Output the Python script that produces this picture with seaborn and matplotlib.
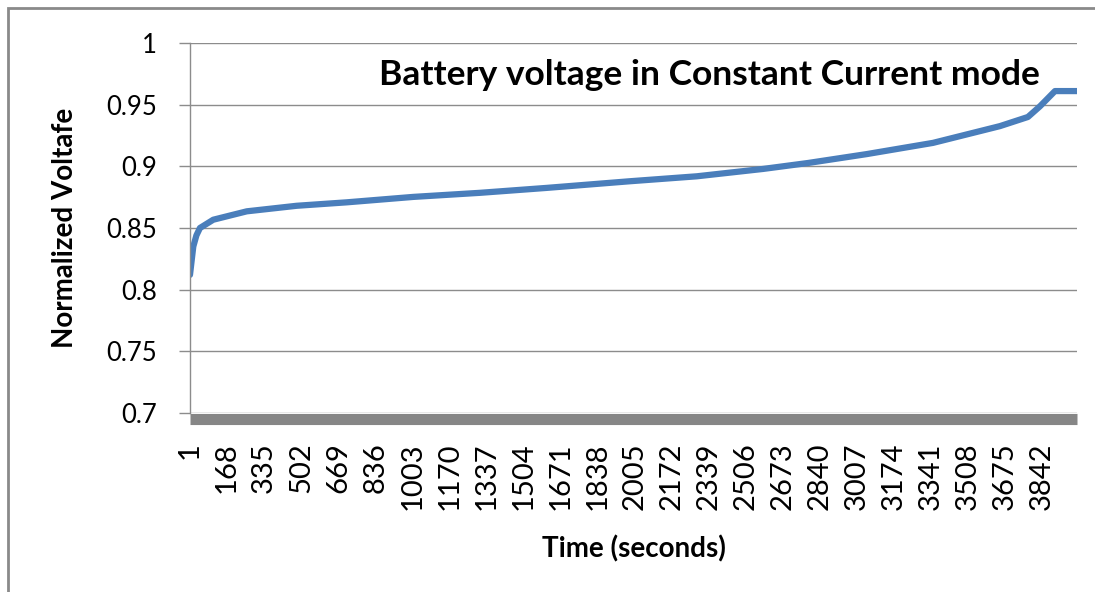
import numpy as np
import pandas as pd
import matplotlib
matplotlib.use("Agg")
import matplotlib.pyplot as plt
import seaborn as sns
from matplotlib.patches import Rectangle

# values
time_s = [1, 16, 30, 46, 106, 257, 482, 708, 1008, 1308, 1609, 1985, 2286,
          2586, 2788, 3052, 3351, 3653, 3779, 3833, 3901, 4000]
norm_voltage = [0.812, 0.835, 0.844, 0.850, 0.8567, 0.8635, 0.868, 0.8708,
                0.8752, 0.8785, 0.8825, 0.8879, 0.8919, 0.8979, 0.9027,
                0.9099, 0.919, 0.9326, 0.940, 0.9486, 0.961, 0.961]
x_ticks = list(range(1, 4000, 167))
y_ticks = [0.7, 0.75, 0.8, 0.85, 0.9, 0.95, 1.0]
y_labels = ['0.7', '0.75', '0.8', '0.85', '0.9', '0.95', '1']

df = pd.DataFrame({'Time': time_s, 'Voltage': norm_voltage})

sns.set_style("white")
plt.rcParams['font.family'] = ['Lato', 'DejaVu Sans']
plt.rcParams['text.color'] = 'black'
plt.rcParams['axes.labelcolor'] = 'black'
plt.rcParams['xtick.labelcolor'] = 'black'
plt.rcParams['ytick.labelcolor'] = 'black'

fig = plt.figure(figsize=(10.95, 5.92), dpi=100)
ax = fig.add_axes([0.1735, 0.3024, 0.81, 0.625])

sns.lineplot(data=df, x='Time', y='Voltage', ax=ax, color='#4a7ebb', linewidth=4.5)

ax.set_xlim(1, 4000)
ax.set_ylim(0.7, 1.0)
ax.set_yticks(y_ticks)
ax.set_yticklabels(y_labels)
ax.set_xticks(x_ticks)
ax.set_xticklabels([str(t) for t in x_ticks])

ax.grid(axis='y', color='#8c8c8c', linewidth=1)
ax.grid(axis='x', visible=False)
ax.set_axisbelow(True)

for s in ['top', 'right']:
    ax.spines[s].set_visible(False)
ax.spines['left'].set_color('#8c8c8c')
ax.spines['left'].set_linewidth(1)
ax.spines['bottom'].set_color('#868686')
ax.spines['bottom'].set_linewidth(8)
ax.spines['bottom'].set_capstyle('butt')
ax.spines['bottom'].set_position(('outward', 4))

ax.tick_params(axis='y', which='major', direction='out', length=8, width=1,
               color='#8c8c8c', labelcolor='black', labelsize=18.5, pad=16, left=True)
ax.tick_params(axis='x', length=0, labelcolor='black', labelsize=21, pad=17, labelrotation=90)

ax.set_xlabel('Time (seconds)', fontsize=20, fontweight='bold', labelpad=18, color='black')
ax.set_ylabel('Normalized Voltafe', fontsize=20, fontweight='bold', labelpad=20, color='black')

ax.text(0.958, 0.914, 'Battery voltage in Constant Current mode',
        transform=ax.transAxes, ha='right', va='center',
        fontsize=25.5, fontweight='bold', color='black')

fig.patches.append(Rectangle((0.0073, -0.1), 1.2, 0.9865 + 0.1, transform=fig.transFigure,
                             fill=False, edgecolor='#8a8a8a', linewidth=2))

plt.savefig('out.png', dpi=100)
plt.close()
